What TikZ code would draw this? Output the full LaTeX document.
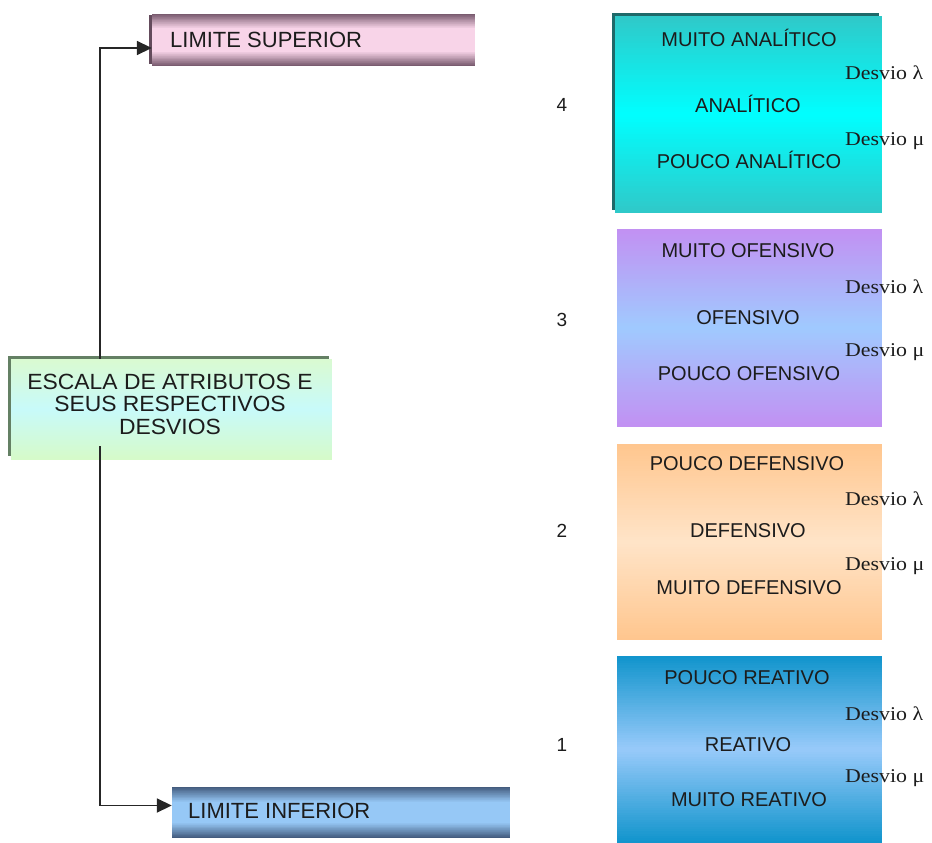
\documentclass[tikz,border=0pt]{standalone}
\usepackage{fontspec}
\setmainfont{Liberation Sans}
\newfontfamily\desvfont{Liberation Serif}
\usetikzlibrary{arrows.meta}
\definecolor{supdark}{RGB}{118,88,108}
\definecolor{supmid}{RGB}{248,212,232}
\definecolor{infdark}{RGB}{66,90,124}
\definecolor{infmid}{RGB}{150,200,246}
\definecolor{esctop}{RGB}{218,250,208}
\definecolor{escmid}{RGB}{200,250,250}
\definecolor{escbot}{RGB}{214,250,200}
\definecolor{escsh}{RGB}{100,128,100}
\definecolor{ctop}{RGB}{48,200,200}
\definecolor{cmid}{RGB}{0,255,255}
\definecolor{csh}{RGB}{30,105,105}
\definecolor{ptop}{RGB}{194,144,242}
\definecolor{pmid}{RGB}{160,202,255}
\definecolor{otop}{RGB}{255,198,142}
\definecolor{omid}{RGB}{255,228,200}
\definecolor{btop}{RGB}{16,148,204}
\definecolor{bmid}{RGB}{152,202,250}
\definecolor{txt}{RGB}{28,28,28}
% vertical gradient made of strips: x1,y1,x2,y2,top,mid,bottom,ramp fraction
\newcommand\vgrad[8]{%
  \foreach \i in {0,...,79}{%
    \pgfmathsetmacro\ya{#2+(#4-#2)*\i/80}%
    \pgfmathsetmacro\yb{min(#4,#2+(#4-#2)*(\i+1)/80+0.7)}%
    \pgfmathsetmacro\tt{(\i+0.5)/80}%
    \pgfmathsetmacro\dd{min(\tt,1-\tt)}%
    \pgfmathsetmacro\pp{max(0,1-\dd/#8)*100}%
    \ifdim\tt pt<0.5pt \def\ec{#5}\else\def\ec{#7}\fi
    \fill[\ec!\pp!#6] (#1,\ya) rectangle (#3,\yb);
  }}
\tikzset{
  lab/.style={text=txt, font=\fontsize{20}{22}\selectfont, inner sep=0pt},
  limlab/.style={text=txt, font=\fontsize{22}{24}\selectfont, inner sep=0pt, anchor=west},
  desv/.style={text=txt, font=\desvfont\fontsize{19.5}{21}\selectfont, anchor=west, inner sep=0pt},
  num/.style={text=txt, font=\fontsize{19}{21}\selectfont, inner sep=0pt},
  area/.style={inner sep=0pt, draw=none},
  conn/.style={line width=1.8pt, draw=black!85, -{Triangle[length=15pt,width=14pt]}},
}
\begin{document}
\begin{tikzpicture}[x=1pt,y=-1pt]
\useasboundingbox (0,0) rectangle (932,843);
% LIMITE SUPERIOR
\fill[supdark!85!black] (149,15) rectangle (472,64);
\vgrad{152}{14}{475}{66}{supdark}{supmid}{supdark}{0.28}
\node[area, minimum width=323pt, minimum height=52pt] (limsup) at (313.5,40) {};
\node[limlab] (limsuptxt) at (170,39.5) {LIMITE SUPERIOR};
% LIMITE INFERIOR
\vgrad{172}{787}{510}{838}{infdark}{infmid}{infdark}{0.3}
\node[area, minimum width=338pt, minimum height=51pt] (liminf) at (341,812.5) {};
\node[limlab] (liminftxt) at (188,810.5) {LIMITE INFERIOR};
% central box
\fill[escsh] (8,356) rectangle (329,456);
\vgrad{11}{359}{332}{460}{esctop}{escmid}{escbot}{0.5}
\node[area, minimum width=322pt, minimum height=102pt] (scale) at (171,409) {};
\node[text=txt, font=\fontsize{22}{22.5}\selectfont, align=center, inner sep=0pt]
      (scaletxt) at (170,404) {\scalebox{1.04}[1]{ESCALA DE ATRIBUTOS E}\\\scalebox{1.04}[1]{SEUS RESPECTIVOS}\\\scalebox{1.04}[1]{DESVIOS}};
\coordinate (stop) at (100,359);
\coordinate (sbot) at (100,446);
\draw[conn] (stop) |- ([yshift=-8pt]limsup.west);
\draw[conn] (sbot) |- ([yshift=7pt]liminf.west);
% category boxes
\fill[csh] (612,13) rectangle (879,210);
\vgrad{615}{16}{882}{213}{ctop}{cmid}{ctop}{0.5}
\node[area, minimum width=267pt, minimum height=197pt] (b4) at (748.5,114.5) {};
\vgrad{617}{229}{882}{427}{ptop}{pmid}{ptop}{0.5}
\node[area, minimum width=265pt, minimum height=198pt] (b3) at (749.5,328) {};
\vgrad{617}{444}{882}{640}{otop}{omid}{otop}{0.5}
\node[area, minimum width=265pt, minimum height=196pt] (b2) at (749.5,542) {};
\vgrad{617}{656}{882}{843}{btop}{bmid}{btop}{0.5}
\node[area, minimum width=265pt, minimum height=187pt] (b1) at (749.5,749.5) {};
% numbers
\node[num] (n4) at (562,105) {4};
\node[num] (n3) at (562,320) {3};
\node[num] (n2) at (562,531) {2};
\node[num] (n1) at (562,745) {1};
% box 4
\node[lab] (t4a) at (749,38) {MUITO ANALÍTICO};
\node[lab] (t4b) at (748,104) {ANALÍTICO};
\node[lab] (t4c) at (749,160) {POUCO ANALÍTICO};
\node[desv] (d4a) at (845,73) {\scalebox{1.12}[1]{Desvio λ}};
\node[desv] (d4b) at (845,141) {\scalebox{1.12}[1]{Desvio μ}};
% box 3
\node[lab] (t3a) at (748,251) {MUITO OFENSIVO};
\node[lab] (t3b) at (748,318) {OFENSIVO};
\node[lab] (t3c) at (749,374) {POUCO OFENSIVO};
\node[desv] (d3a) at (845,287) {\scalebox{1.12}[1]{Desvio λ}};
\node[desv] (d3b) at (845,352) {\scalebox{1.12}[1]{Desvio μ}};
% box 2
\node[lab] (t2a) at (747,464) {POUCO DEFENSIVO};
\node[lab] (t2b) at (748,531) {DEFENSIVO};
\node[lab] (t2c) at (749,588) {MUITO DEFENSIVO};
\node[desv] (d2a) at (845,499) {\scalebox{1.12}[1]{Desvio λ}};
\node[desv] (d2b) at (845,566) {\scalebox{1.12}[1]{Desvio μ}};
% box 1
\node[lab] (t1a) at (747,678) {POUCO REATIVO};
\node[lab] (t1b) at (748,745) {REATIVO};
\node[lab] (t1c) at (749,800) {MUITO REATIVO};
\node[desv] (d1a) at (845,714) {\scalebox{1.12}[1]{Desvio λ}};
\node[desv] (d1b) at (845,778) {\scalebox{1.12}[1]{Desvio μ}};
\end{tikzpicture}
\end{document}
